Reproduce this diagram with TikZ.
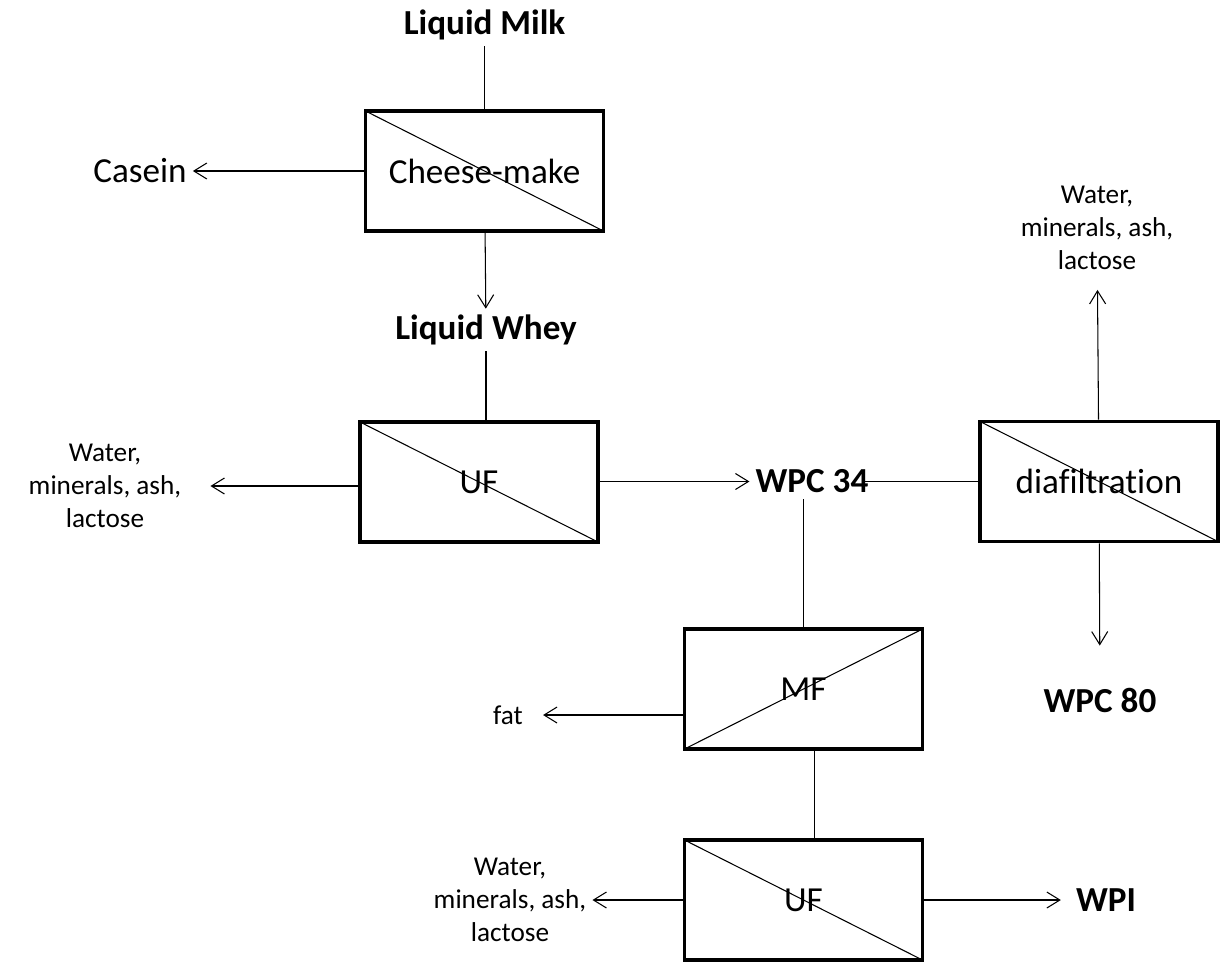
\documentclass[tikz,border=0pt]{standalone}
\usepackage{fontspec}
\setmainfont{Carlito}[Ligatures=NoCommon]
\usetikzlibrary{arrows.meta,positioning}
\tikzset{
  >={Straight Barb[length=2.6mm,width=3.2mm]},
  unit/.style={draw,line width=2.1pt,minimum width=4.76cm,minimum height=2.4cm,
    inner sep=0pt,font=\fontsize{20}{24}\selectfont,
    path picture={\draw[line width=0.6pt] (path picture bounding box.north west)
      -- (path picture bounding box.south east);}},
  unit up/.style={draw,line width=2.1pt,minimum width=4.76cm,minimum height=2.4cm,
    inner sep=0pt,font=\fontsize{20}{24}\selectfont,
    path picture={\draw[line width=0.6pt] (path picture bounding box.south west)
      -- (path picture bounding box.north east);}},
  stream/.style={font=\fontsize{20}{24}\selectfont\bfseries},
  plain/.style={font=\fontsize{20}{24}\selectfont},
  tag/.style={font=\fontsize{15.5}{18.7}\selectfont,align=center},
  flow/.style={->,line width=0.6pt},
  link/.style={line width=0.6pt},
}
\begin{document}
\begin{tikzpicture}
    \useasboundingbox (0,0) rectangle (24.48,-19.24);
    % process units
    \node[unit] (cm) at (9.69,-3.42) {Cheese-make};
    \node[unit] (uf1) at (9.58,-9.64) {UF};
    \node[unit] (dia) at (21.98,-9.63) {diafiltration};
    \node[unit up] (mf) at (16.07,-13.78) {MF};
    \node[unit] (uf2) at (16.07,-18.0) {UF};
    % streams
    \node[stream] (milk) at (9.69,-0.5) {Liquid Milk};
    \node[plain] (casein) at (2.8,-3.42) {Casein};
    \node[stream] (whey) at (9.72,-6.6) {Liquid Whey};
    \node[tag] (w1) at (2.1,-9.72) {Water,\\minerals, ash,\\lactose};
    \node[stream] (wpc34) at (16.24,-9.63) {WPC 34};
    \node[tag] (w2) at (21.94,-4.56) {Water,\\minerals, ash,\\lactose};
    \node[stream] (wpc80) at (22.0,-14.0) {WPC 80};
    \node[tag] (fat) at (10.16,-14.3) {fat};
    \node[tag] (w3) at (10.2,-18.0) {Water,\\minerals, ash,\\lactose};
    \node[stream] (wpi) at (22.12,-18.0) {WPI};
    % connections
    \draw[link] (milk) -- (cm);
    \draw[flow] (cm) -- (casein);
    \draw[flow] (cm) -- (whey);
    \draw[link] (whey.south) -- (whey.south |- uf1.north);
    \draw[flow,shorten >=0.46cm] (uf1.west |- w1) -- (w1);
    \draw[flow] (uf1.east |- wpc34) -- (wpc34);
    \draw[link,shorten <=-0.2cm] (wpc34) -- (dia);
    \draw[flow,shorten >=0.28cm] (dia) -- (w2);
    \draw[flow,shorten >=0.72cm] (dia) -- (wpc80);
    \draw[link] (mf.north |- wpc34.south) -- (mf.north);
    \draw[flow,shorten >=0.28cm] (mf.west |- fat) -- (fat);
    \draw[link] ([xshift=0.22cm]mf.south) -- ([xshift=0.22cm]uf2.north);
    \draw[flow] (uf2) -- (w3);
    \draw[flow,shorten >=0.18cm] (uf2) -- (wpi);
\end{tikzpicture}
\end{document}
